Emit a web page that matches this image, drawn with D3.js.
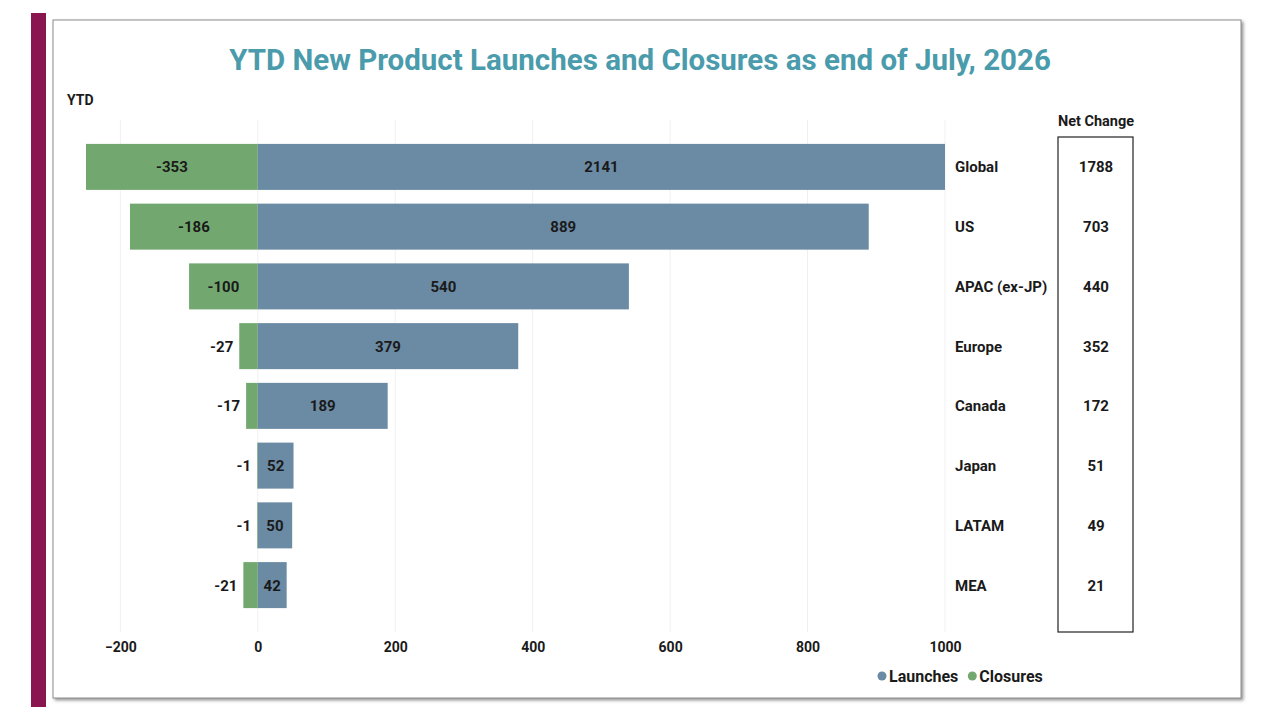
<!DOCTYPE html>
<html>
<head>
<meta charset="utf-8">
<script src="https://cdn.jsdelivr.net/npm/d3@7"></script>
<style>
  body { margin: 0; background: #fff; }
  svg text { font-family: Roboto, "Noto Sans", sans-serif; font-weight: 700; fill: #1a1a1a; }
</style>
</head>
<body>
<svg id="chart" width="1280" height="720"></svg>
<script>
// data
var regions = ["Global", "US", "APAC (ex-JP)", "Europe", "Canada", "Japan", "LATAM", "MEA"]
var launches = [2141, 889, 540, 379, 189, 52, 50, 42]
var closures = [-353, -186, -100, -27, -17, -1, -1, -21]
var netChange = [1788, 703, 440, 352, 172, 51, 49, 21]
var xTicks = [-200, 0, 200, 400, 600, 800, 1000]

var blue = "#6b8aa4"
var green = "#72a86f"

var svg = d3.select("#chart")

var defs = svg.append("defs")
var shadow = defs.append("filter").attr("id", "shadow")
  .attr("x", "-2%").attr("y", "-2%").attr("width", "104%").attr("height", "106%")
shadow.append("feDropShadow")
  .attr("dx", 2).attr("dy", 2).attr("stdDeviation", 1.5)
  .attr("flood-color", "#555").attr("flood-opacity", 0.6)

// side accent + card
svg.append("rect").attr("x", 31).attr("y", 13).attr("width", 15).attr("height", 694).attr("fill", "#8a1650")
svg.append("rect").attr("x", 53).attr("y", 20).attr("width", 1188).attr("height", 678)
  .attr("fill", "#fff").attr("stroke", "#8c8c8c").attr("stroke-width", 1)
  .attr("filter", "url(#shadow)")

svg.append("text")
  .attr("x", 640).attr("y", 70)
  .attr("text-anchor", "middle")
  .style("font-size", "29.5px")
  .style("fill", "#4a9bab")
  .text("YTD New Product Launches and Closures as end of July, 2026")

svg.append("text").attr("x", 67).attr("y", 105).style("font-size", "14px").text("YTD")

var x = d3.scaleLinear().domain([-250, 1000]).range([86, 945]).clamp(true)
var y = d3.scaleBand().domain(regions).range([120, 632]).paddingInner(0.23).paddingOuter(0.4)

// grid
svg.append("g").selectAll("line").data(xTicks).enter().append("line")
  .attr("x1", function(d) { return x(d) }).attr("x2", function(d) { return x(d) })
  .attr("y1", 120).attr("y2", 632)
  .attr("stroke", "#f0f0f0").attr("stroke-width", 1)

// axis
var axis = svg.append("g").attr("transform", "translate(0,632)")
  .call(d3.axisBottom(x).tickValues(xTicks).tickFormat(d3.format("d")).tickSize(0).tickPadding(10))
axis.select(".domain").remove()
axis.selectAll("text").style("font-size", "14px").style("font-family", null).attr("fill", "#1a1a1a")

var rows = regions.map(function(r, i) {
  return { region: r, launch: launches[i], closure: closures[i], net: netChange[i] }
})

var g = svg.append("g")

g.selectAll(".closure").data(rows).enter().append("rect")
  .attr("class", "closure")
  .attr("x", function(d) { return x(d.closure) })
  .attr("width", function(d) { return x(0) - x(d.closure) })
  .attr("y", function(d) { return y(d.region) })
  .attr("height", y.bandwidth())
  .attr("fill", green)

g.selectAll(".launch").data(rows).enter().append("rect")
  .attr("class", "launch")
  .attr("x", x(0))
  .attr("width", function(d) { return x(d.launch) - x(0) })
  .attr("y", function(d) { return y(d.region) })
  .attr("height", y.bandwidth())
  .attr("fill", blue)

var labelSize = "15px"

g.selectAll(".launch-label").data(rows).enter().append("text")
  .attr("x", function(d) { return (x(0) + x(d.launch)) / 2 })
  .attr("y", function(d) { return y(d.region) + y.bandwidth() / 2 })
  .attr("dy", "0.36em")
  .attr("text-anchor", "middle")
  .style("font-size", labelSize)
  .text(function(d) { return d.launch })

g.selectAll(".closure-label").data(rows).enter().append("text")
  .attr("x", function(d) {
    var w = x(0) - x(d.closure)
    return w > 40 ? (x(0) + x(d.closure)) / 2 : x(d.closure) - 6
  })
  .attr("y", function(d) { return y(d.region) + y.bandwidth() / 2 })
  .attr("dy", "0.36em")
  .attr("text-anchor", function(d) { return (x(0) - x(d.closure)) > 40 ? "middle" : "end" })
  .style("font-size", labelSize)
  .text(function(d) { return d.closure })

g.selectAll(".region").data(rows).enter().append("text")
  .attr("x", 955)
  .attr("y", function(d) { return y(d.region) + y.bandwidth() / 2 })
  .attr("dy", "0.36em")
  .style("font-size", "15px")
  .text(function(d) { return d.region })

// net change column
svg.append("text").attr("x", 1096).attr("y", 126).attr("text-anchor", "middle")
  .style("font-size", "14.5px").text("Net Change")
svg.append("rect").attr("x", 1058).attr("y", 137).attr("width", 75).attr("height", 495)
  .attr("fill", "none").attr("stroke", "#222").attr("stroke-width", 1.2)

g.selectAll(".net").data(rows).enter().append("text")
  .attr("x", 1096)
  .attr("y", function(d) { return y(d.region) + y.bandwidth() / 2 })
  .attr("dy", "0.36em")
  .attr("text-anchor", "middle")
  .style("font-size", "15px")
  .text(function(d) { return d.net })

// legend
var legend = svg.append("g").attr("transform", "translate(882,676)")
var items = [{ name: "Launches", color: blue }, { name: "Closures", color: green }]
var lx = 0
items.forEach(function(it) {
  legend.append("circle").attr("cx", lx).attr("cy", 0).attr("r", 4.5).attr("fill", it.color)
  var t = legend.append("text").attr("x", lx + 7).attr("dy", "0.36em").style("font-size", "16px").text(it.name)
  lx += t.node().getComputedTextLength() + 21
})
</script>
</body>
</html>
